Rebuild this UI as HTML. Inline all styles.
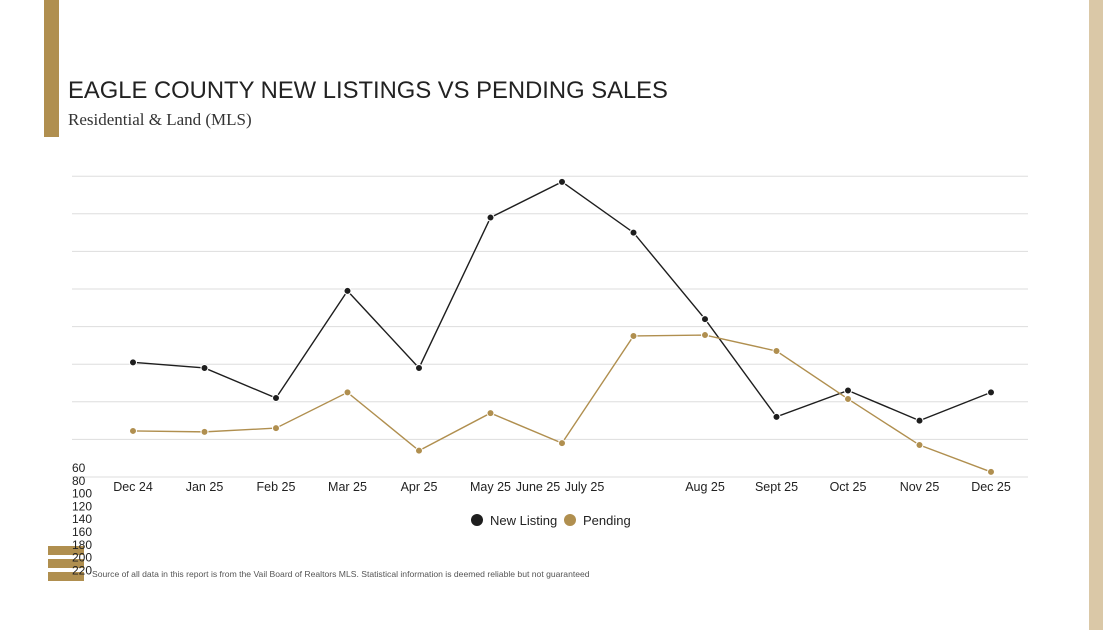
<!DOCTYPE html>
<html><head><meta charset="utf-8"><style>
body{margin:0;width:1118px;height:630px;background:#fff;position:relative;overflow:hidden;font-family:"Liberation Sans",sans-serif}
.abs{position:absolute}
</style></head><body>
<div class="abs" style="left:44px;top:0;width:15px;height:137px;background:#b08f4f"></div>
<div class="abs" style="left:1089px;top:0;width:14px;height:630px;background:#dac8a7"></div>
<div class="abs" style="left:68px;top:77px;font-size:23.8px;color:#222">EAGLE COUNTY NEW LISTINGS VS PENDING SALES</div>
<div class="abs" style="left:68px;top:110px;font-size:17px;color:#333;font-family:'Liberation Serif',serif">Residential &amp; Land (MLS)</div>
<div class="abs" style="left:48px;top:546px;width:36px;height:35px">
<div style="height:9px;background:#b08f4f;margin-bottom:4px"></div><div style="height:9px;background:#b08f4f;margin-bottom:4px"></div><div style="height:9px;background:#b08f4f"></div></div>
<div class="abs" style="left:92px;top:569px;font-size:8.6px;color:#555">Source of all data in this report is from the Vail Board of Realtors MLS. Statistical information is deemed reliable but not guaranteed</div>
<svg id="chart" class="abs" style="left:0;top:0" width="1118" height="630"></svg>
<script>
const categories=["Dec 24","Jan 25","Feb 25","Mar 25","Apr 25","May 25","June 25","July 25","Aug 25","Sept 25","Oct 25","Nov 25","Dec 25"];
const newListing=[121,118,102,159,118,198,217,190,144,92,106,90,105];
const pending=[84.5,84,86,105,74,94,78,135,135.5,127,101.5,77,62.7];
const yTicks=[60,80,100,120,140,160,180,200,220];
const svg=document.getElementById('chart');
const NS='http://www.w3.org/2000/svg';
const x=i=>133+i*71.5;
const y=v=>477-(v-60)/20*37.6;
function mk(t,a){const e=document.createElementNS(NS,t);for(const k in a)e.setAttribute(k,a[k]);svg.appendChild(e);return e;}
yTicks.forEach((v,i)=>{
 const g=mk('line',{x1:72,x2:1028,y1:y(v),y2:y(v),stroke:'#ddd','stroke-width':1});
 
 
 const t=mk('text',{x:72,y:472+i*12.8,'font-size':12,fill:'#222'});t.textContent=v;
 
 
});
const labelShift={6:-24,7:-49};
categories.forEach((c,i)=>{
 const t=mk('text',{x:x(i)+(labelShift[i]||0),y:491,'font-size':12.5,fill:'#222','text-anchor':'middle'});t.textContent=c;
 
 
});
function series(vals,col,name){
 const p=mk('polyline',{points:vals.map((v,i)=>x(i)+','+y(v)).join(' '),fill:'none',stroke:col,'stroke-width':1.4});
 
 
 vals.forEach((v,i)=>{const c=mk('circle',{cx:x(i),cy:y(v),r:3.5,fill:col,stroke:'#fff','stroke-width':1});
 
 });
}
series(newListing,'#1e1e1e','new-listing');
series(pending,'#b08f4f','pending');
[[477,'#1e1e1e','New Listing',490],[570,'#b08f4f','Pending',583]].forEach(l=>{
 const c=mk('circle',{cx:l[0],cy:520,r:6,fill:l[1]});
 
 
 const t=mk('text',{x:l[3],y:525,'font-size':13,fill:'#222'});t.textContent=l[2];
 
 
});
</script>
</body></html>
